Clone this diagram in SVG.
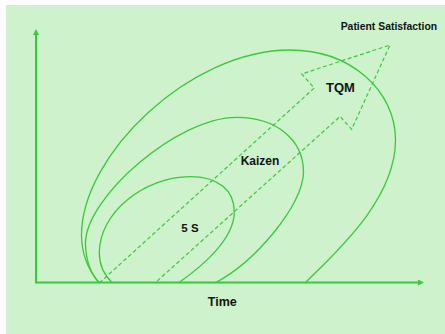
<svg xmlns="http://www.w3.org/2000/svg" width="445" height="334" viewBox="0 0 445 334">
<style>
.axis{fill:none;stroke:#3cc83c;stroke-width:2}
.ell{fill:none;stroke:#3cc83c;stroke-width:1.3}
.dash{fill:none;stroke:#3cc83c;stroke-width:1.2;stroke-dasharray:4 2.5}
.lbl{font-family:"Liberation Sans",Arial,sans-serif;font-weight:bold;fill:#141414}
</style>
<defs>
<marker id="ah" viewBox="0 0 6 6" refX="0" refY="3" markerWidth="6" markerHeight="6" orient="auto" markerUnits="userSpaceOnUse">
<path d="M0,0 L6,3 L0,6 z" fill="#3cc83c"/>
</marker>
</defs>
<rect x="0" y="0" width="445" height="334" fill="#ffffff"/>
<rect x="6" y="5" width="439" height="329" fill="#cdf2cc"/>
<g id="connectors">
<path class="axis" d="M36,283 L36,35" marker-end="url(#ah)"/>
<path class="axis" d="M35,282.5 L418,282.5" marker-end="url(#ah)"/>
</g>
<g id="tqm">
<path class="ell" d="M99,283 C90,272 81.5,255 81.5,235 C81.5,155 190,50 290,50 C350,50 395.5,90 395.5,140 C395.5,200 335,253 305,283"/>
<text class="lbl" x="340.5" y="92" font-size="13" text-anchor="middle">TQM</text>
</g>
<g id="kaizen">
<path class="ell" d="M100,283 C91,275 85.5,260 85.5,243 C85.5,198 176.7,117.3 236.7,117.3 C276.7,117.3 303.5,140 303.5,172 C303.5,205 255,262 215,283"/>
<text class="lbl" x="260" y="165" font-size="12" text-anchor="middle">Kaizen</text>
</g>
<g id="fives">
<path class="ell" d="M112.5,283 C103,274 99.3,265 99.3,253 C99.3,212 145,176.7 190,176.7 C218,176.7 234.3,190 234.3,212 C234.3,240 200,268 178.3,283"/>
<text class="lbl" x="190" y="231.5" font-size="11.5" text-anchor="middle">5 S</text>
</g>
<g id="satisfaction-arrow">
<polyline class="dash" points="99.3,283 314.3,88 301.7,74 390,45 351.7,129.3 340,116.5 155,283"/>
<text class="lbl" x="340.7" y="30" font-size="10.4">Patient Satisfaction</text>
</g>
<g id="time">
<text class="lbl" x="222.3" y="306" font-size="12.5" text-anchor="middle">Time</text>
</g>
</svg>
